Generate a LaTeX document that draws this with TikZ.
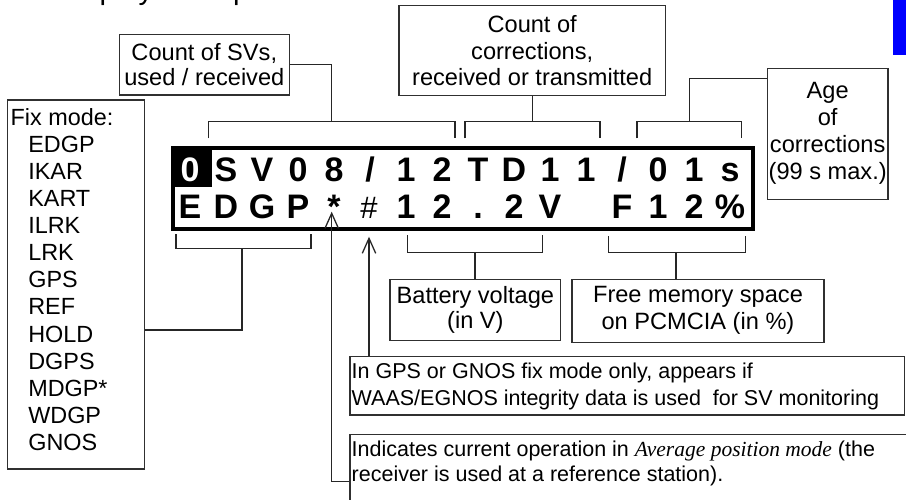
\documentclass[tikz,border=0pt]{standalone}
\usepackage{fontspec}
\setmainfont{Liberation Sans}
\newfontfamily\timesfam{Liberation Serif}
\usetikzlibrary{arrows.meta}
\definecolor{linec}{HTML}{262626}
\definecolor{boxc}{HTML}{303030}
\begin{document}
\begin{tikzpicture}[x=1pt,y=-1pt,
  box/.style={draw=boxc,line width=1.4pt,inner sep=0pt,align=center},
  wire/.style={draw=linec,line width=1.3pt},
  arr/.style={wire,-{Straight Barb[length=15pt,width=13.4pt]}},
  lcd/.style={anchor=base,inner sep=0pt,font=\fontsize{34}{34}\selectfont\bfseries},
  plain/.style={anchor=north west,inner sep=0pt,align=left}]
\useasboundingbox (0,0) rectangle (906,499);
\clip (0,0) rectangle (906,499);

% heading, running off the top edge
\node[anchor=base west,inner sep=0pt,font=\fontsize{29.3}{30}\selectfont] (title) at (62,-1) {display example};
% tab marker at the right edge
\fill[blue] (893,0) rectangle (906,55);

% label boxes
\node[box,minimum width=170pt,minimum height=60.7pt,font=\fontsize{23.6}{25}\selectfont] (svs) at (204.3,64.7) {Count of SVs,\\used / received};
\node[box,minimum width=266.3pt,minimum height=90pt,font=\fontsize{23.6}{26.7}\selectfont] (corr) at (532.2,50.7) {Count of\\corrections,\\received or transmitted};
\node[box,minimum width=120.7pt,minimum height=131pt,font=\fontsize{23.6}{27}\selectfont] (age) at (827.7,133.8) {Age\\of\\corrections\\(99 s max.)};
\node[box,minimum width=170.7pt,minimum height=61.4pt,font=\fontsize{23.6}{25}\selectfont] (bat) at (475.35,310) {Battery voltage\\(in V)};
\node[box,minimum width=252pt,minimum height=63pt,font=\fontsize{23.6}{27}\selectfont] (free) at (698,310.8) {Free memory space\\on PCMCIA (in \%)};

% fix mode list
\node[box,anchor=north west,minimum width=137.3pt,minimum height=369pt] (fix) at (6.7,99.3) {};
\node[plain,font=\fontsize{23.4}{27.1}\selectfont] (fixtxt) at (10.5,108.1)
  {Fix mode:\\\hspace*{17.6pt}EDGP\\\hspace*{17.6pt}IKAR\\\hspace*{17.6pt}KART\\\hspace*{17.6pt}ILRK\\\hspace*{17.6pt}LRK\\\hspace*{17.6pt}GPS\\\hspace*{17.6pt}REF\\\hspace*{17.6pt}HOLD\\\hspace*{17.6pt}DGPS\\\hspace*{17.6pt}MDGP*\\\hspace*{17.6pt}WDGP\\\hspace*{17.6pt}GNOS};

% notes
\node[box,anchor=north west,minimum width=554.4pt,minimum height=58.3pt] (gps) at (349.3,356) {};
\node[plain,font=\fontsize{21.5}{26.7}\selectfont] (gpstxt) at (351.5,362.8)
  {In GPS or GNOS fix mode only, appears if\\WAAS/EGNOS integrity data is used\ \ for SV monitoring};
\node[box,anchor=north west,minimum width=620pt,minimum height=100pt] (ind) at (349.3,434) {};
\node[plain,font=\fontsize{21.5}{25}\selectfont] (indtxt) at (351.5,441.2)
  {Indicates current operation in {\timesfam\itshape Average position mode} (the\\receiver is used at a reference station).};

% LCD screen
\node[fill=black,inner sep=0pt,anchor=north west,minimum width=41pt,minimum height=40.7pt] (zcell) at (171,146.3) {};
\node[lcd,text=white] (ra0) at (190,181) {0};
\foreach \k/\ch in {1/S,2/V,3/0,4/8,5/{/},6/1,7/2,8/T,9/D,10/1,11/1,12/{/},13/0,14/1,15/s}
  \node[lcd] (ra\k) at ({190+36*\k},181) {\ch};
\foreach \k/\ch in {0/E,1/D,2/G,3/P,4/*,6/1,7/2,8/.,9/2,10/V,12/F,13/1,14/2,15/\%}
  \node[lcd] (rb\k) at ({190+36*\k},218) {\ch};
\node[anchor=base,inner sep=0pt,font=\fontsize{31}{31}\selectfont] (rb5) at (369,218.5) {\#};
\node[draw=black,line width=4pt,inner sep=0pt,anchor=north west,minimum width=580pt,minimum height=80.7pt] (lcdframe) at (171,146.3) {};

% brackets above the screen
\draw[wire] (208.3,138.3) -- (208.3,121.7) -- (455,121.7) -- (455,138.3);
\coordinate (t1) at (331.7,121.7);
\draw[wire] (svs.east) -| (t1);
\draw[wire] (465,138.3) -- (465,121.7) -- (600,121.7) -- (600,138.3);
\coordinate (t2) at (532.2,121.7);
\draw[wire] (corr.south) -- (t2);
\draw[wire] (637,138.3) -- (637,121.7) -- (741.3,121.7) -- (741.3,138.3);
\coordinate (t3) at (689.5,121.7);
\coordinate (t3top) at (689.5,78.3);
\draw[wire] (t3) -- (t3top) -- (t3top -| age.west);

% brackets below the screen
\draw[wire] (176,234) -- (176,248.3) -- (311,248.3) -- (311,234);
\coordinate (bA) at (242,248.3);
\coordinate (bAc) at (242,330);
\draw[wire] (bA) -- (bAc) -- (bAc -| fix.east);
\draw[wire] (407.7,235) -- (407.7,252.7) -- (542.3,252.7) -- (542.3,235);
\coordinate (bB) at (475,252.7);
\draw[wire] (bB) -- (bB |- bat.north);
\draw[wire] (608.3,236) -- (608.3,252.7) -- (745.3,252.7) -- (745.3,236);
\coordinate (bC) at (676,252.7);
\draw[wire] (bC) -- (bC |- free.north);

% pointers to the * and # flags
\coordinate (starTip) at (331.7,211.7);
\coordinate (hashTip) at (369,236.7);
\draw[arr] (hashTip |- gps.north) -- (hashTip);
\path (ind.north west) ++(0,47.7) coordinate (indIn);
\draw[arr] (indIn) -| (starTip);
\end{tikzpicture}
\end{document}
